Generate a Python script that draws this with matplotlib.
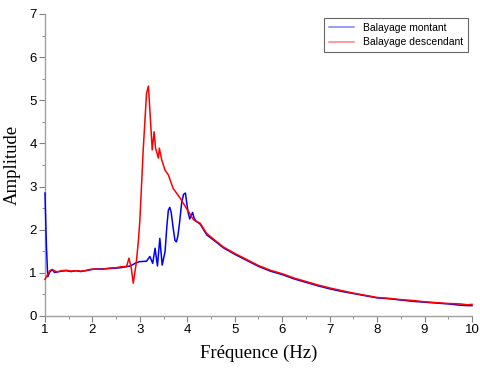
import matplotlib
matplotlib.use("Agg")
import matplotlib.pyplot as plt
from matplotlib.ticker import MultipleLocator

# Balayage montant (blue)
f_up = [1.00, 1.01, 1.03, 1.05, 1.06, 1.10, 1.15, 1.20, 1.25, 1.35, 1.45, 1.55, 1.65, 1.75, 1.85,
        1.95, 2.05, 2.20, 2.35, 2.50, 2.60, 2.70, 2.80, 2.93, 3.00, 3.14, 3.21, 3.27, 3.32, 3.37,
        3.42, 3.47, 3.53, 3.57, 3.60, 3.63, 3.66, 3.70, 3.74, 3.77, 3.80, 3.84, 3.88, 3.92, 3.96,
        3.99, 4.02, 4.05, 4.08, 4.11, 4.14, 4.18, 4.27,
        4.41, 4.60, 4.76, 5.00, 5.25, 5.50, 5.75, 6.00, 6.25, 6.50, 6.75, 7.00, 7.25, 7.50, 7.75,
        8.00, 8.25, 8.50, 8.75, 9.00, 9.25, 9.50, 9.75, 9.90, 10.00]
a_up = [2.85, 2.42, 1.61, 1.10, 0.91, 1.02, 1.07, 1.01, 1.02, 1.04, 1.05, 1.03, 1.05, 1.03, 1.05,
        1.07, 1.09, 1.09, 1.10, 1.11, 1.12, 1.14, 1.16, 1.24, 1.26, 1.27, 1.38, 1.22, 1.57, 1.16,
        1.80, 1.18, 1.49, 2.10, 2.45, 2.52, 2.40, 2.05, 1.75, 1.72, 1.85, 2.20, 2.62, 2.82, 2.85,
        2.60, 2.38, 2.25, 2.32, 2.40, 2.28, 2.20, 2.13,
        1.88, 1.72, 1.58, 1.43, 1.29, 1.15, 1.04, 0.96, 0.86, 0.78, 0.70, 0.63, 0.57, 0.52, 0.47,
        0.42, 0.40, 0.37, 0.34, 0.32, 0.30, 0.28, 0.25, 0.24, 0.24]

# Balayage descendant (red)
f_down = [1.00, 1.05, 1.10, 1.15, 1.25, 1.35, 1.45, 1.55, 1.65, 1.75, 1.85, 1.95, 2.05, 2.20,
          2.35, 2.50, 2.60, 2.72, 2.77, 2.82, 2.86, 2.92, 2.97, 3.00, 3.07, 3.14, 3.18, 3.21, 3.26,
          3.30, 3.33, 3.39, 3.41, 3.46, 3.53, 3.60, 3.70, 3.85, 3.95, 4.13, 4.27, 4.41, 4.60, 4.76,
          5.00, 5.25, 5.50, 5.75, 6.00, 6.25, 6.50, 6.75, 7.00, 7.25, 7.50, 7.75, 8.00, 8.25, 8.50,
          8.75, 9.00, 9.25, 9.50, 9.75, 9.90, 10.00]
a_down = [0.85, 0.95, 1.05, 1.08, 1.02, 1.05, 1.06, 1.04, 1.05, 1.04, 1.05, 1.08, 1.09, 1.08,
          1.11, 1.12, 1.14, 1.15, 1.34, 1.10, 0.76, 1.20, 1.76, 2.23, 3.85, 5.16, 5.33, 4.78, 3.85,
          4.27, 3.89, 3.66, 3.89, 3.62, 3.38, 3.27, 2.96, 2.73, 2.55, 2.23, 2.15, 1.91, 1.74, 1.60,
          1.45, 1.31, 1.17, 1.06, 0.98, 0.88, 0.80, 0.72, 0.65, 0.59, 0.53, 0.48, 0.43, 0.41, 0.38,
          0.36, 0.33, 0.31, 0.29, 0.28, 0.26, 0.27]

plt.rcParams['font.family'] = ['Liberation Sans', 'DejaVu Sans']
fig = plt.figure(figsize=(4.81, 3.69), dpi=100)
ax = fig.add_axes([45/481, 1 - 316/369, (472 - 45)/481, (316 - 14)/369])

ax.plot(f_up, a_up, color='#0000ff', lw=1.1, label='Balayage montant', zorder=3, clip_on=False)
ax.plot(f_down, a_down, color='#ff0000', lw=1.1, label='Balayage descendant', zorder=3, clip_on=False)

ax.set_xlim(1, 10)
ax.set_ylim(0, 7)
ax.xaxis.set_major_locator(MultipleLocator(1))
ax.xaxis.set_minor_locator(MultipleLocator(0.5))
ax.yaxis.set_major_locator(MultipleLocator(1))
ax.yaxis.set_minor_locator(MultipleLocator(0.5))

for s in ['top', 'right']:
    ax.spines[s].set_visible(False)
for s in ['left', 'bottom']:
    ax.spines[s].set_color('#a0a0a0')
    ax.spines[s].set_linewidth(1.0)
ax.tick_params(which='major', length=4, color='#808080', labelsize=9.5, pad=2)
ax.tick_params(which='minor', length=2, color='#808080')

ax.set_xlabel('Fréquence (Hz)', family='Liberation Serif', fontsize=13.5, labelpad=6)
ax.set_ylabel('Amplitude', family='Liberation Serif', fontsize=13.5, labelpad=6)

leg = ax.legend(loc='upper right', bbox_to_anchor=(468/481, 1 - 18/369), bbox_transform=fig.transFigure,
                borderaxespad=0, fontsize=7.5, frameon=True, fancybox=False, edgecolor='#404040',
                handlelength=2.4, borderpad=0.45, labelspacing=0.45, handletextpad=0.9)
leg.get_frame().set_linewidth(0.8)
leg.set_zorder(5)
for line in leg.get_lines():
    line.set_alpha(0.5)

fig.savefig('out.png', dpi=100)
